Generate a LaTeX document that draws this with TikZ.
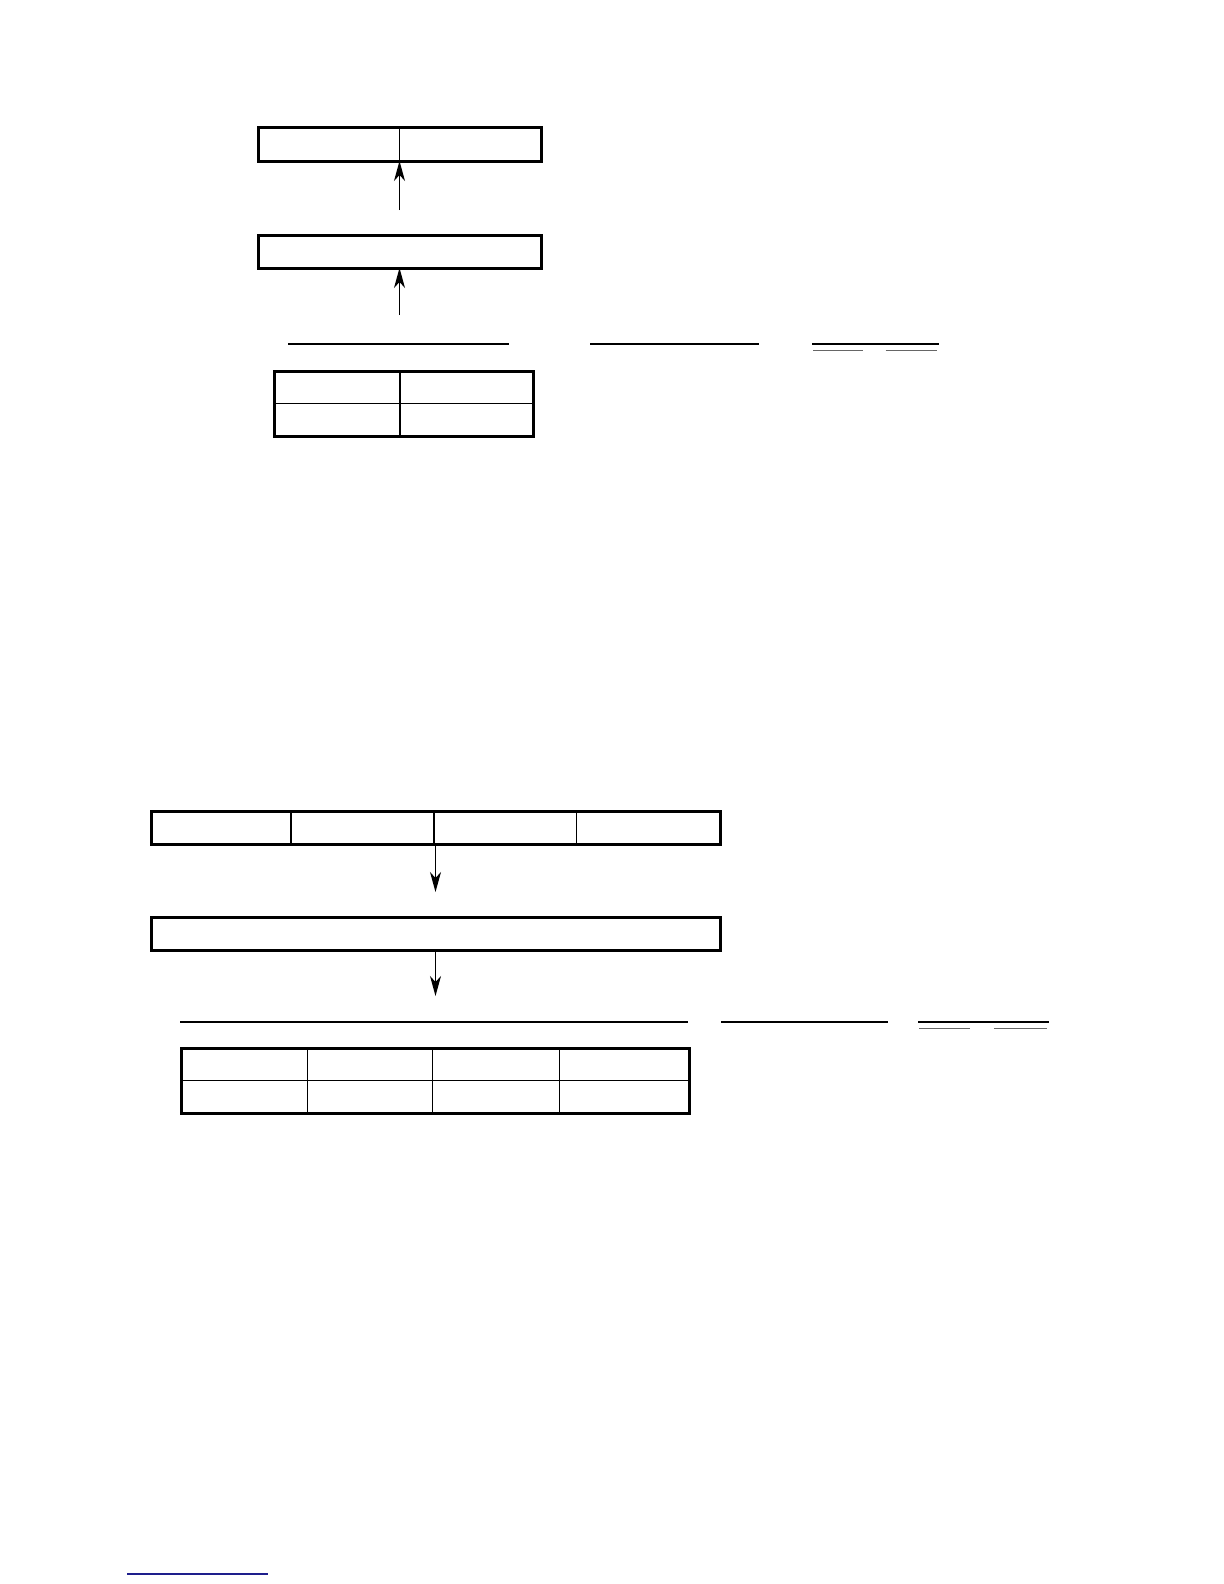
\documentclass[tikz,border=0pt]{standalone}
\usetikzlibrary{calc}
\usetikzlibrary{arrows.meta}
\tikzstyle{frame}=[draw,line width=1.5pt,inner sep=0pt,outer sep=0pt,anchor=north west]
\tikzstyle{divider}=[line width=0.75pt]
\tikzstyle{flow}=[line width=0.6pt,-{Stealth[length=10pt,width=5.5pt,inset=3pt]}]
\tikzstyle{blank}=[line width=0.6pt]
\tikzstyle{subblank}=[line width=0.5pt,black!60]
\definecolor{linkblue}{RGB}{30,30,140}
\def\blankfield(#1:#2:#3)% Syntax: (left:right:y), line with two short lines under it
    { \draw[blank] (#1,#3) -- (#2,#3);
      \draw[subblank] (#1+1,#3+6) -- ({#1+0.4*(#2-#1)},#3+6);
      \draw[subblank] ({#1+0.58*(#2-#1)},#3+6) -- (#2-2,#3+6); }

\begin{document}
\begin{tikzpicture}[x=0.5pt,y=-0.5pt]
  \useasboundingbox (0,0) rectangle (1224,1584);
  % upper part
  \node[frame,minimum width=141.5pt,minimum height=16.5pt] (pair) at (258,128) {};
  \draw[divider] (pair.north) -- (pair.south);
  \node[frame,minimum width=141.5pt,minimum height=16.5pt] (joined) at (258,235) {};
  \coordinate (pairin) at ($(pair.south)+(0,49)$);
  \coordinate (joinedin) at ($(joined.south)+(0,47)$);
  \draw[flow] (pairin) -- (pair.south);
  \draw[flow] (joinedin) -- (joined.south);
  \draw[blank] (288,344) -- (509,344);
  \draw[blank] (590,344) -- (759,344);
  \blankfield(812:939:344)
  \node[frame,minimum width=129.75pt,minimum height=32.5pt] (smalltab) at (274,371) {};
  \draw[divider] (smalltab.west) -- (smalltab.east);
  \draw[divider] ($(smalltab.north west)!0.486!(smalltab.north east)$) -- ($(smalltab.south west)!0.486!(smalltab.south east)$);
  % lower part
  \node[frame,minimum width=284.5pt,minimum height=16.5pt] (quad) at (151,811) {};
  \foreach \f in {0.246,0.497,0.748}
    \draw[divider] ($(quad.north west)!\f!(quad.north east)$) -- ($(quad.south west)!\f!(quad.south east)$);
  \node[frame,minimum width=284.5pt,minimum height=16.5pt] (merged) at (151,917) {};
  \coordinate (quadout) at ($(quad.south)+(0,48)$);
  \coordinate (mergedout) at ($(merged.south)+(0,46)$);
  \draw[flow] (quad.south) -- (quadout);
  \draw[flow] (merged.south) -- (mergedout);
  \draw[blank] (180,1022) -- (688,1022);
  \draw[blank] (721,1022) -- (888,1022);
  \blankfield(918:1049:1022)
  \node[frame,minimum width=254pt,minimum height=32.5pt] (bigtab) at (181,1048) {};
  \draw[divider] (bigtab.west) -- (bigtab.east);
  \foreach \f in {0.249,0.495,0.745}
    \draw[divider] ($(bigtab.north west)!\f!(bigtab.north east)$) -- ($(bigtab.south west)!\f!(bigtab.south east)$);
  % footer rule
  \draw[linkblue,line width=0.6pt] (127,1574) -- (268,1574);
\end{tikzpicture}
\end{document}
